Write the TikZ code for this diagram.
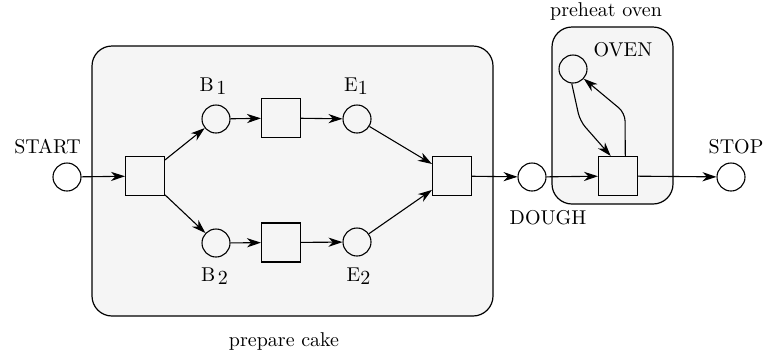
\documentclass[tikz,border=0pt]{standalone}
\usetikzlibrary{arrows.meta}
\begin{document}
\begin{tikzpicture}[x=0.5pt,y=-0.5pt]
\tikzset{
  place/.style={circle, draw, line width=0.55pt, minimum size=14pt, inner sep=0pt},
  transition/.style={rectangle, draw, line width=0.55pt, minimum size=19.5pt, inner sep=0pt},
  arc/.style={-{Stealth[length=7pt,width=4.6pt,inset=2.2pt]}, line width=0.55pt},
  groupbox/.style={draw, line width=0.6pt, fill=black!4, rounded corners=10pt},
  lbl/.style={inner sep=0pt, anchor=center}
}
\useasboundingbox (0,0) rectangle (764,360);

% sub-net boxes
\draw[groupbox] (92,46) rectangle (493,316);
\draw[groupbox] (552,27) rectangle (673,204);
\node[lbl] (cakelbl) at (284,341.5) {prepare cake};
\node[lbl] (preheatlbl) at (606,11.5) {preheat oven};

% places
\node[place] (start) at (67,177) {};
\node[place] (b1) at (216,119) {};
\node[place] (b2) at (216,243) {};
\node[place] (e1) at (357,119) {};
\node[place] (e2) at (357,242) {};
\node[place] (dough) at (532,177) {};
\node[place] (oven) at (573,69) {};
\node[place] (stop) at (731,177) {};

% transitions
\node[transition] (split) at (145,176) {};
\node[transition] (tb1) at (281,118) {};
\node[transition] (tb2) at (281,242.5) {};
\node[transition] (join) at (452,176) {};
\node[transition] (bake) at (618,176) {};

% place labels
\node[lbl] (startlbl) at (47.5,147) {START};
\node[lbl] (b1lbl) at (213,86) {B\kern1.2pt\raisebox{-1.5pt}{1}};
\node[lbl] (b2lbl) at (214.5,276.5) {B\kern1.2pt\raisebox{-1.5pt}{2}};
\node[lbl] (e1lbl) at (356,86) {E\raisebox{-1.5pt}{1}};
\node[lbl] (e2lbl) at (358.5,276.5) {E\raisebox{-1.5pt}{2}};
\node[lbl] (doughlbl) at (548,218) {DOUGH};
\node[lbl] (ovenlbl) at (623,50) {OVEN};
\node[lbl] (stoplbl) at (736,147) {STOP};

% arcs
\draw[arc] (start) -- (split);
\draw[arc] (split) -- (b1);
\draw[arc] (split) -- (b2);
\draw[arc] (b1) -- (tb1);
\draw[arc] (b2) -- (tb2);
\draw[arc] (tb1) -- (e1);
\draw[arc] (tb2) -- (e2);
\draw[arc] (e1) -- (join);
\draw[arc] (e2) -- (join);
\draw[arc] (join) -- (dough);
\draw[arc] (dough) -- (bake);
\draw[arc] (bake) -- (stop);
\draw[arc, rounded corners=4pt] (oven.-95) -- (580,121) -- (bake.110);
\draw[arc, rounded corners=4pt] (bake.70) -- (625,113) -- (oven.-42);
\end{tikzpicture}
\end{document}
